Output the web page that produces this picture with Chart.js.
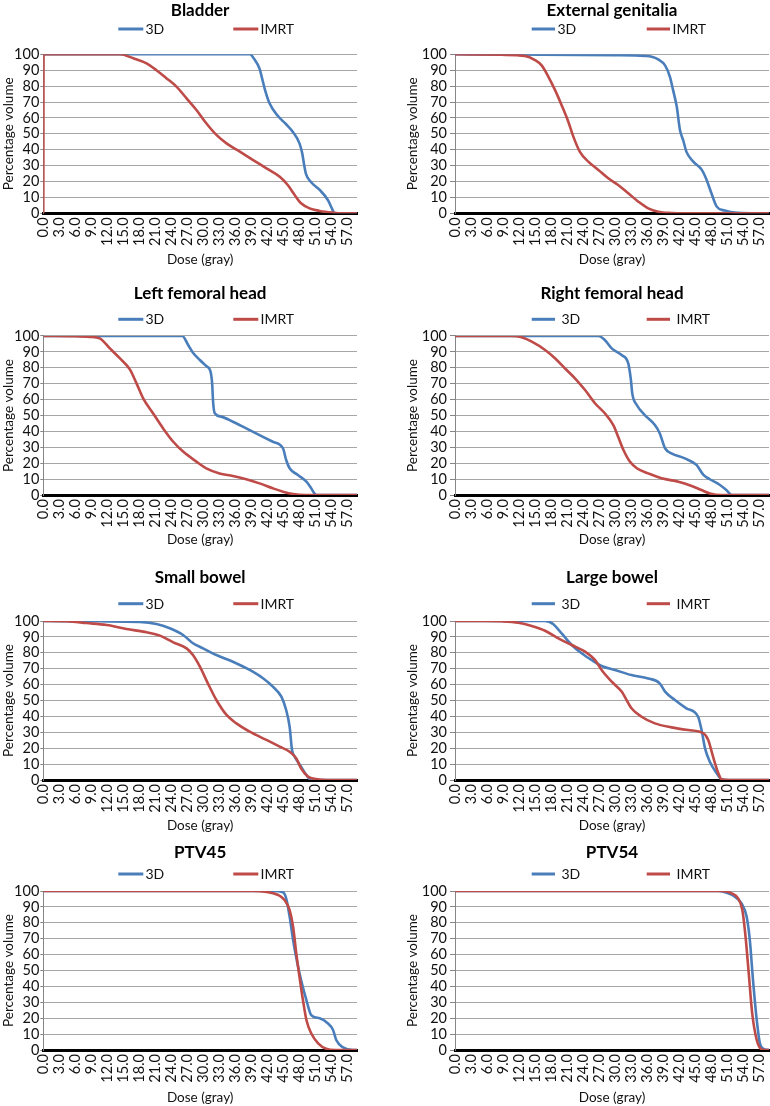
<!DOCTYPE html>
<html><head><meta charset="utf-8">
<script src="https://cdn.jsdelivr.net/npm/chart.js@4"></script>
<style>
html,body{margin:0;padding:0;background:#fff;}
body{width:770px;height:1106px;position:relative;overflow:hidden;}
canvas{position:absolute;}
</style></head><body>
<script>
// ---------- DATA ----------
const panelTitles = ['Bladder','External genitalia','Left femoral head','Right femoral head','Small bowel','Large bowel','PTV45','PTV54'];
const seriesNames = ['3D','IMRT'];
const doseTicks = [0,3,6,9,12,15,18,21,24,27,30,33,36,39,42,45,48,51,54,57];
const volumeTicks = [0,10,20,30,40,50,60,70,80,90,100];
const doseMax = 58.9;
const xAxisTitle = 'Dose (gray)';
const yAxisTitle = 'Percentage volume';

const bladderDose3D = [0,38.8,39.6,40.6,41.0,41.6,42.5,44.1,45.6,46.9,48.1,48.6,49.0,49.3,50.3,51.9,53.4,54.2,54.7,58.9];
const bladderVol3D  = [100,100,97,91,86,78,69,61,56,51,44,38,30,25,19.5,14.7,8.5,3,0,0];
const bladderDoseIMRT = [0,0.05,14.4,16.9,19.4,21.25,23.1,25,26.9,28.75,30.6,32.5,34.4,36.9,39.4,41.9,44.4,45.9,47.2,48.4,50,51.9,54.4,56,58.9];
const bladderVolIMRT  = [0,100,100,97.5,94.3,90,85,79.7,72.3,65,56.6,49.3,44,38.8,33.5,28.3,23,17.8,11.5,6.3,3.1,1.5,0.4,0,0];

const genitaliaDose3D = [0,30,35.6,36.9,38.1,39.4,40.3,40.9,41.6,42.2,42.8,43.4,44.7,46.3,47.2,48.1,49.1,50.6,52.5,55.6,58.9];
const genitaliaVol3D  = [100,99.5,99,98.5,96.8,93,86,77.6,67,52.4,46,38.8,32.5,27.3,21,12.6,4.2,1.7,0.4,0,0];
const genitaliaDoseIMRT = [0,8.75,13.1,15,16.25,17.5,18.75,20,21.25,22.2,23.4,25,26.9,28.75,30.6,32.5,34.4,36.25,38.1,40.6,43,58.9];
const genitaliaVolIMRT  = [100,99.7,99,96.4,93,86,77.6,68,57.6,48.2,38.8,32.5,27.3,22,17.8,12.6,7.3,3.1,1,0.2,0,0];

const leftFemurDose3D = [0,26.1,27.2,28.1,29.4,30.6,31.4,31.7,31.9,32.2,33.4,35.6,38.1,40.6,43.1,45,45.6,46.25,47.8,49.4,50.3,50.9,51.25,58.9];
const leftFemurVol3D  = [100,100,94.3,89.5,84.9,81.1,77.6,70.2,57.7,51.4,49.3,46.1,41.9,37.7,33.5,29.4,22,16.8,12.6,8.4,4.2,1,0,0];
const leftFemurDoseIMRT = [0,6,8.75,10.6,12.5,14.4,16.25,17.5,18.75,20.6,22.5,24.4,26.25,28.75,30.6,33.1,35.6,38.1,40.6,43.1,45,46.9,49.4,58.9];
const leftFemurVolIMRT  = [100,99.8,99.4,98.5,92.2,85.9,79,70.2,60.8,51.4,41.9,33.5,27.3,21,16.8,13.6,12,9.9,7.3,4.2,2.1,0.6,0,0];

const rightFemurDose3D = [0,26.9,28.1,29.4,31.25,32.5,33,33.25,34.1,35.6,37.5,38.4,39.4,40.6,43.1,45.3,46.6,47.8,49.7,50.9,51.9,58.9];
const rightFemurVol3D  = [100,100,97.5,92.2,88,82.8,72.3,63.9,56.6,50.3,44,38.8,29.4,26.2,23,18.9,12.6,9.9,6.3,3.1,0,0];
const rightFemurDoseIMRT = [0,10.6,12.5,14.4,16.9,18.75,20.6,22.5,24.4,26.25,28.1,29.7,30.6,31.6,32.8,34.1,36.25,38.75,41.9,44.4,46.25,47.8,50,58.9];
const rightFemurVolIMRT  = [100,100,99.2,96.4,91.2,86,79.7,73.4,66,57.7,51.4,44,36.7,28.3,21,16.8,13.6,10.5,8.4,5.7,3.1,1,0,0];

const smallBowelDose3D = [0,10.6,18.1,21.25,23.75,26.25,28.1,30,32.5,35.6,38.75,41.25,43.1,44.7,45.6,46.25,46.7,47.2,48.4,49.4,50.3,58.9];
const smallBowelVol3D  = [100,99.8,99.4,98.1,95.4,91.2,86,82.8,78.6,74.4,69.2,64,58.7,52.4,44,33.5,18.9,14.7,8.4,3.1,0,0];
const smallBowelDoseIMRT = [0,4.4,8.1,11.9,15.6,19.4,21.9,24.4,26.9,28.1,29.4,30.9,32.5,34.4,36.25,38.75,41.9,44.4,46.25,47.5,48.4,49.7,51.25,54,58.9];
const smallBowelVolIMRT  = [100,99.8,98.7,97.5,95,92.9,90.8,86.6,82.8,78.6,71.3,60.8,50.3,40.9,35.6,30.4,25.2,21,17.8,13.6,7.3,2.1,0.6,0,0];

const largeBowelDose3D = [0,16.9,18.4,20,21.9,23.75,25.6,27.5,30,33.1,36.25,38.4,39.4,41.25,43.4,45.6,46.25,46.9,47.8,49.1,50,51.25,58.9];
const largeBowelVol3D  = [100,100,98.1,92.2,84.9,79.7,75.5,71.7,69.2,66,63.9,60.8,55.6,50.3,45.1,39.8,31.4,19.9,11.5,4.2,0.4,0,0];
const largeBowelDoseIMRT = [0,5.6,8.75,11.9,14.4,16.9,19.4,21.9,24.4,26.25,27.5,29.4,31.25,33.1,35,37.5,40.6,43.75,46.6,47.5,48.4,49.4,50,51.25,58.9];
const largeBowelVolIMRT  = [100,100,99.8,98.9,96.9,93.9,89.1,84.9,80.7,75.5,69.2,61.8,55.6,45.1,39.8,35.6,33.1,31.4,29.4,25.2,14.7,4.2,0.4,0,0];

const ptv45Dose3D = [0,43.1,45,45.6,46.25,46.9,47.7,48.4,49.4,50.3,51.9,53.4,54.4,55,56.25,58.1,58.9];
const ptv45Vol3D  = [100,100,99.2,95.4,83.9,69.2,54.5,44,31.4,22,19.9,16.8,12.6,6.3,1.7,0,0];
const ptv45DoseIMRT = [0,39.4,41.9,44.1,45.3,46.25,46.9,47.5,48.1,48.75,49.4,50.3,51.6,53.1,55,58.9];
const ptv45VolIMRT  = [100,100,99.4,97.5,94.3,88,77.6,60.8,46.1,31.4,18.9,10.5,4.2,0.8,0,0];

const ptv54Dose3D = [0,49.4,51.25,52.5,53.75,54.7,55.3,55.9,56.6,57.2,58.1,58.9];
const ptv54Vol3D  = [100,100,98.5,96.4,92.2,83.9,69.2,44,18.9,4.2,0.4,0];
const ptv54DoseIMRT = [0,50,51.9,53.1,53.9,54.5,55.1,55.75,56.6,57.5,58.2,58.9];
const ptv54VolIMRT  = [100,100,98.5,95.4,88,71.3,48.2,23,6.3,0.4,0,0];

const panelSeries = [
  [bladderDose3D, bladderVol3D, bladderDoseIMRT, bladderVolIMRT],
  [genitaliaDose3D, genitaliaVol3D, genitaliaDoseIMRT, genitaliaVolIMRT],
  [leftFemurDose3D, leftFemurVol3D, leftFemurDoseIMRT, leftFemurVolIMRT],
  [rightFemurDose3D, rightFemurVol3D, rightFemurDoseIMRT, rightFemurVolIMRT],
  [smallBowelDose3D, smallBowelVol3D, smallBowelDoseIMRT, smallBowelVolIMRT],
  [largeBowelDose3D, largeBowelVol3D, largeBowelDoseIMRT, largeBowelVolIMRT],
  [ptv45Dose3D, ptv45Vol3D, ptv45DoseIMRT, ptv45VolIMRT],
  [ptv54Dose3D, ptv54Vol3D, ptv54DoseIMRT, ptv54VolIMRT]
];

// ---------- LAYOUT / STYLE ----------
const COLORS = ['#4a7ebb', '#be4b48'];
const FONT = 'Lato';
const TEXT = '#111';
const TITLE_SIZE = 17, TICK_SIZE = 14.5, AXIS_SIZE = 13.5, LEGEND_SIZE = 14;
const rowGeom = [
  {T:0,   H:275, tc:10.5,  leg:29,    ct:54.3, cb:213.3, xc:260},
  {T:275, H:280, tc:293.3, leg:319.3, ct:336,  cb:495,   xc:540},
  {T:555, H:281, tc:578,   leg:603.7, ct:621,  cb:780,   xc:826},
  {T:836, H:270, tc:852.5, leg:874,   ct:891,  cb:1050,  xc:1097.5}
];
// column geometry, x values relative to the panel's left edge
const colGeom = [
  {L:0,   cl:43.3, cr:357, yTitle:8.3, tickLen:3, tickPad:1},
  {L:385, cl:70,   cr:384, yTitle:28,  tickLen:5, tickPad:3}
];
function legendItems(row, col) {
  if (col === 0) return [{x0:118.3,x1:143.3,tx:145.5},{x0:233.3,x1:258.3,tx:260.5}];
  if (row === 0) return [{x0:146.7,x1:170,tx:172.5},{x0:261.7,x1:285,tx:287.5}];
  return [{x0:146.7,x1:170,tx:176.5},{x0:261.7,x1:285,tx:291.5}];
}

const legendPlugin = {
  id: 'dvhLegend',
  afterDraw(chart, args, opts) {
    const ctx = chart.ctx;
    ctx.save();
    ctx.font = LEGEND_SIZE + 'px ' + FONT;
    ctx.textBaseline = 'middle';
    ctx.textAlign = 'left';
    chart.data.datasets.forEach((ds, k) => {
      const it = opts.items[k];
      ctx.strokeStyle = ds.borderColor;
      ctx.lineWidth = 3;
      ctx.beginPath();
      ctx.moveTo(it.x0, opts.y);
      ctx.lineTo(it.x1, opts.y);
      ctx.stroke();
      ctx.fillStyle = TEXT;
      ctx.fillText(ds.label, it.tx, opts.y + 0.5);
    });
    ctx.restore();
  }
};

function toPoints(xs, ys) { return xs.map((x, i) => ({x: x, y: ys[i]})); }

function build() {
  panelTitles.forEach((title, i) => {
    const row = Math.floor(i / 2), col = i % 2;
    const R = rowGeom[row], C = colGeom[col];
    const s = panelSeries[i];
    const canvas = document.createElement('canvas');
    canvas.width = 385; canvas.height = R.H;
    canvas.style.left = C.L + 'px'; canvas.style.top = R.T + 'px';
    canvas.style.width = '385px'; canvas.style.height = R.H + 'px';
    document.body.appendChild(canvas);
    const tcRel = R.tc - R.T, ctRel = R.ct - R.T, cbRel = R.cb - R.T, xcRel = R.xc - R.T;
    const tLH = TITLE_SIZE * 1.2, aLH = AXIS_SIZE * 1.2;
    new Chart(canvas, {
      type: 'line',
      data: {
        datasets: [
          {label: seriesNames[0], data: toPoints(s[0], s[1]), borderColor: COLORS[0], backgroundColor: COLORS[0],
           borderWidth: 2.6, pointRadius: 0, cubicInterpolationMode: 'monotone', fill: false, order: 1},
          {label: seriesNames[1], data: toPoints(s[2], s[3]), borderColor: COLORS[1], backgroundColor: COLORS[1],
           borderWidth: 2.6, pointRadius: 0, cubicInterpolationMode: 'monotone', fill: false, order: 0}
        ]
      },
      options: {
        responsive: false, animation: false, devicePixelRatio: 1,
        events: [],
        layout: {padding: {left: 0, top: 0, bottom: 0, right: 385 - C.cr}},
        plugins: {
          legend: {display: false},
          tooltip: {enabled: false},
          title: {display: true, text: title, fullSize: false, color: '#000',
                  font: {family: FONT, size: TITLE_SIZE, weight: 'bold', lineHeight: 1.2},
                  padding: {top: tcRel - tLH / 2, bottom: ctRel - tcRel - tLH / 2}},
          dvhLegend: {y: R.leg - R.T, items: legendItems(row, col)}
        },
        scales: {
          x: {
            type: 'linear', min: 0, max: doseMax,
            afterBuildTicks: sc => { sc.ticks = doseTicks.map(v => ({value: v})); },
            afterFit: sc => { sc.height = R.H - cbRel; sc.paddingLeft = 0; sc.paddingRight = 0; },
            grid: {display: false, drawTicks: false},
            border: {display: true, color: '#000', width: 3},
            ticks: {autoSkip: false, minRotation: 90, maxRotation: 90, padding: 4, color: TEXT,
                    font: {family: FONT, size: TICK_SIZE}, callback: v => Number(v).toFixed(1)},
            title: {display: true, text: xAxisTitle, color: TEXT,
                    font: {family: FONT, size: AXIS_SIZE, lineHeight: 1.2},
                    padding: {top: 0, bottom: R.H - xcRel - aLH / 2}}
          },
          y: {
            type: 'linear', min: 0, max: 100,
            afterBuildTicks: sc => { sc.ticks = volumeTicks.map(v => ({value: v})); },
            afterFit: sc => { sc.width = C.cl; },
            grid: {color: '#a6a6a6', lineWidth: 1, drawTicks: true, tickLength: C.tickLen, tickColor: '#868686'},
            border: {display: true, color: '#868686', width: 1},
            ticks: {autoSkip: false, padding: C.tickPad, color: TEXT, font: {family: FONT, size: TICK_SIZE}, callback: v => String(v)},
            title: {display: true, text: yAxisTitle, color: TEXT,
                    font: {family: FONT, size: AXIS_SIZE, lineHeight: 1.2},
                    padding: {top: C.yTitle - aLH / 2, bottom: 0}}
          }
        }
      },
      plugins: [legendPlugin]
    });
  });
}

Promise.all([document.fonts.load('bold 17px Lato'), document.fonts.load('14px Lato')])
  .then(build, build);
</script>
</body></html>
